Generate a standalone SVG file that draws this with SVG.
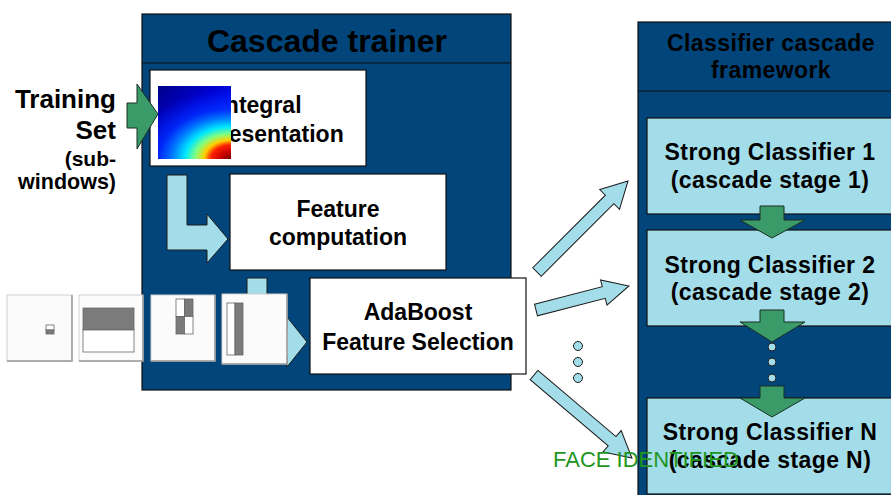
<svg xmlns="http://www.w3.org/2000/svg" width="891" height="495" viewBox="0 0 891 495">
  <style>
    .lbl { font-family: "Liberation Sans", Arial, sans-serif; font-weight: bold; fill: #000; text-anchor: middle; }
    .wide { letter-spacing: 0.4px; }
    .panel { fill: #02457a; stroke: #111; stroke-width: 1.2; }
    .box { fill: #fff; stroke: #111; stroke-width: 1.2; }
    .stage { fill: #a3dde9; stroke: #111; stroke-width: 1.2; }
    .flow { fill: #a3dde9; stroke: #1a1a1a; stroke-width: 1; }
    .down { fill: #3a9b69; stroke: #1a2e22; stroke-width: 1; }
    .dot { fill: #a3dde9; stroke: #1a1a1a; stroke-width: 1; }
    .haar { fill: #fbfbfb; stroke: #cfcfcf; stroke-width: 1; }
    .shade { fill: none; stroke: #9a9a9a; stroke-width: 1.5; }
    .dark { fill: #7b7b7b; stroke: #666; stroke-width: 0.8; }
    .light { fill: #fff; stroke: #666; stroke-width: 0.8; }
  </style>
  <defs>
    <linearGradient id="heatBase" x1="0" y1="0" x2="1" y2="1">
      <stop offset="0" stop-color="#00008a"/>
      <stop offset="0.4" stop-color="#0000d0"/>
      <stop offset="0.8" stop-color="#0020ff"/>
    </linearGradient>
    <radialGradient id="heatHot" gradientUnits="userSpaceOnUse" cx="231" cy="159" r="100" fx="231" fy="159"
                    gradientTransform="translate(231 159) scale(1 0.7) translate(-231 -159)">
      <stop offset="0" stop-color="#780000"/>
      <stop offset="0.09" stop-color="#c00000"/>
      <stop offset="0.2" stop-color="#ff2000"/>
      <stop offset="0.27" stop-color="#ffd000"/>
      <stop offset="0.36" stop-color="#80ff80"/>
      <stop offset="0.46" stop-color="#00e8ff"/>
      <stop offset="0.58" stop-color="#0080ff"/>
      <stop offset="0.72" stop-color="#0030ff" stop-opacity="0.8"/>
      <stop offset="1" stop-color="#0020ff" stop-opacity="0"/>
    </radialGradient>
  </defs>

  <!-- training set label -->
  <g id="training-set">
    <text class="lbl" style="text-anchor:end" x="116" y="108" font-size="26">Training</text>
    <text class="lbl" style="text-anchor:end" x="116" y="139" font-size="26">Set</text>
    <text class="lbl" style="text-anchor:end" x="116" y="166" font-size="21">(sub-</text>
    <text class="lbl" style="text-anchor:end" x="116" y="189" font-size="21.5">windows)</text>
  </g>

  <!-- trainer panel -->
  <g id="cascade-trainer">
    <rect class="panel" x="142" y="14" width="369" height="376"/>
    <line x1="142" y1="63" x2="511" y2="63" stroke="#111" stroke-width="1.2"/>
    <text class="lbl" x="327" y="52" font-size="32">Cascade trainer</text>
  </g>

  <g id="integral-representation">
    <rect class="box" x="150" y="70" width="216" height="96"/>
    <text class="lbl" x="260" y="113" font-size="23">Integral</text>
    <text class="lbl" x="260" y="142" font-size="23">Representation</text>
  </g>

  <g id="feature-computation">
    <rect class="box" x="230" y="174" width="216" height="96"/>
    <text class="lbl" x="338" y="217" font-size="23">Feature</text>
    <text class="lbl" x="338" y="245" font-size="23">computation</text>
  </g>

  <g id="adaboost">
    <rect class="box" x="310" y="278" width="216" height="96"/>
    <text class="lbl" x="418" y="320" font-size="23">AdaBoost</text>
    <text class="lbl" x="418" y="350" font-size="23">Feature Selection</text>
  </g>

  <!-- classifier cascade panel -->
  <g id="classifier-cascade">
    <rect class="panel" x="638" y="22" width="270" height="490"/>
    <line x1="638" y1="91" x2="891" y2="91" stroke="#111" stroke-width="1.2"/>
    <text class="lbl wide" x="771" y="51" font-size="23">Classifier cascade</text>
    <text class="lbl wide" x="771" y="78" font-size="23">framework</text>
  </g>

  <g id="stage-1">
    <rect class="stage" x="647" y="118" width="260" height="96"/>
    <text class="lbl wide" x="770" y="160" font-size="23">Strong Classifier 1</text>
    <text class="lbl wide" x="770" y="188" font-size="23">(cascade stage 1)</text>
  </g>
  <g id="stage-2">
    <rect class="stage" x="647" y="230" width="260" height="96"/>
    <text class="lbl wide" x="770" y="273" font-size="23">Strong Classifier 2</text>
    <text class="lbl wide" x="770" y="300" font-size="23">(cascade stage 2)</text>
  </g>
  <g id="stage-n">
    <rect class="stage" x="647" y="398" width="260" height="96"/>
    <text class="lbl wide" x="770" y="440" font-size="23">Strong Classifier N</text>
    <text class="lbl wide" x="770" y="468" font-size="23">(cascade stage N)</text>
  </g>

  <!-- connectors -->
  <g id="connectors">
    <!-- input into integral image -->
    <polygon class="down" points="127,103 137,103 137,84 158,114 137,149 137,128 127,128"/>
    <!-- integral -> feature computation -->
    <polygon class="flow" points="167,175 187,175 187,225 207,225 207,214 228,239 207,263 207,250 167,250"/>
    <!-- feature computation -> adaboost -->
    <polygon class="flow" points="247,278 267,278 267,330 287,330 287,317 307,342 287,367 287,355 247,355"/>
    <!-- adaboost -> stages -->
    <polygon class="flow" transform="translate(537 272) rotate(-45)" points="0,-6 102.7,-6 102.7,-14 128.7,0 102.7,14 102.7,6 0,6"/>
    <polygon class="flow" transform="translate(536 310) rotate(-14.5)" points="0,-6 70,-6 70,-13 96,0 70,13 70,6 0,6"/>
    <polygon class="flow" transform="translate(534 375) rotate(40.3)" points="0,-6 102.4,-6 102.4,-14 128.4,0 102.4,14 102.4,6 0,6"/>
    <circle class="dot" cx="578" cy="346" r="4.5"/>
    <circle class="dot" cx="578" cy="362" r="4.5"/>
    <circle class="dot" cx="578" cy="378" r="4.5"/>
    <!-- stage to stage -->
    <polygon class="down" points="760,206 784,206 784,220 805,220 772,238 740,220 760,220"/>
    <polygon class="down" points="760,310 784,310 784,322 805,322 772,342 740,322 760,322"/>
    <circle class="dot" cx="772" cy="347" r="4"/>
    <circle class="dot" cx="772" cy="362" r="4"/>
    <circle class="dot" cx="772" cy="378" r="4"/>
    <polygon class="down" points="760,386 784,386 784,398 805,398 772,417 740,398 760,398"/>
  </g>

  <!-- integral image heat map -->
  <g id="integral-image">
    <rect x="158" y="86" width="73" height="73" fill="url(#heatBase)"/>
    <rect x="158" y="86" width="73" height="73" fill="url(#heatHot)"/>
  </g>

  <!-- haar-like feature samples -->
  <g id="haar-1">
    <rect class="haar" x="7" y="295" width="65" height="66"/>
    <polyline class="shade" points="7,361 72,361 72,295"/>
    <rect class="light" x="46" y="325" width="8" height="5"/>
    <rect class="dark" x="46" y="330" width="8" height="4"/>
  </g>
  <g id="haar-2">
    <rect class="haar" x="79" y="295" width="64" height="66"/>
    <polyline class="shade" points="79,361 143,361 143,295"/>
    <rect class="dark" x="83" y="308" width="51" height="22"/>
    <rect class="light" x="83" y="330" width="51" height="22"/>
  </g>
  <g id="haar-3">
    <rect class="haar" x="151" y="295" width="64" height="66"/>
    <polyline class="shade" points="151,361 215,361 215,295"/>
    <rect class="light" x="176" y="299" width="8.5" height="17.5"/>
    <rect class="dark" x="184.5" y="299" width="8.5" height="17.5"/>
    <rect class="dark" x="176" y="316.5" width="8.5" height="17.5"/>
    <rect class="light" x="184.5" y="316.5" width="8.5" height="17.5"/>
  </g>
  <g id="haar-4">
    <rect class="haar" x="222" y="294" width="65" height="70"/>
    <polyline class="shade" points="222,364 287,364 287,294"/>
    <rect class="light" x="227" y="303" width="8" height="52"/>
    <rect class="dark" x="235" y="303" width="8" height="52"/>
  </g>

  <text id="face-identified" x="553" y="467" font-family="'Liberation Sans', Arial, sans-serif" font-size="22" fill="#1e961e">FACE IDENTIFIED</text>
</svg>
